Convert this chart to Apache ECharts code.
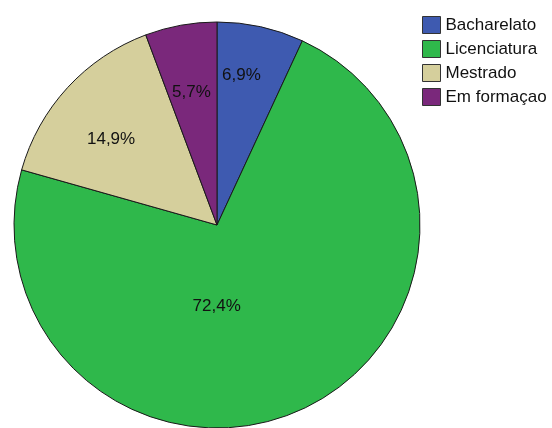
<!DOCTYPE html>
<html>
<head>
<meta charset="utf-8">
<script src="https://cdn.jsdelivr.net/npm/echarts@6/dist/echarts.min.js"></script>
<style>
html,body{margin:0;padding:0;background:#fff;}
#chart{width:552px;height:428px;}
</style>
</head>
<body>
<div id="chart"></div>
<script>
const categories = ['Bacharelato', 'Licenciatura', 'Mestrado', 'Em formaçao'];
const values = [6.9, 72.4, 14.9, 5.7];
const labels = ['6,9%', '72,4%', '14,9%', '5,7%'];

const colors = ['#3e5ab0', '#2fb84b', '#d5cf9c', '#7a287b'];
const labelShift = [[2, -48], [-44, -14], [-29, -15], [-7, -30]];

const chart = echarts.init(document.getElementById('chart'), null, {renderer: 'canvas'});
const data = categories.map((c, i) => ({name: c, value: values[i], itemStyle: {color: colors[i]}}));

chart.setOption({
  animation: false,
  backgroundColor: '#fff',
  legend: {
    orient: 'vertical',
    left: 422,
    top: 16,
    padding: 0,
    itemWidth: 18,
    itemHeight: 17,
    itemGap: 6,
    icon: 'rect',
    selectedMode: false,
    itemStyle: {borderColor: '#333', borderWidth: 1},
    textStyle: {fontFamily: 'Liberation Sans, Arial, sans-serif', fontSize: 17, color: '#111'},
    data: categories
  },
  series: [{
    type: 'pie',
    center: [217, 225],
    radius: 203,
    startAngle: 90,
    clockwise: true,
    avoidLabelOverlap: false,
    itemStyle: {borderColor: '#1a1a1a', borderWidth: 1},
    label: {
      show: true,
      position: 'inside',
      fontFamily: 'Liberation Sans, Arial, sans-serif',
      fontSize: 17,
      color: '#111',
      formatter: p => labels[p.dataIndex]
    },
    labelLine: {show: false},
    labelLayout: p => ({dx: labelShift[p.dataIndex][0], dy: labelShift[p.dataIndex][1]}),
    emphasis: {disabled: true},
    data: data
  }]
});
</script>
</body>
</html>
